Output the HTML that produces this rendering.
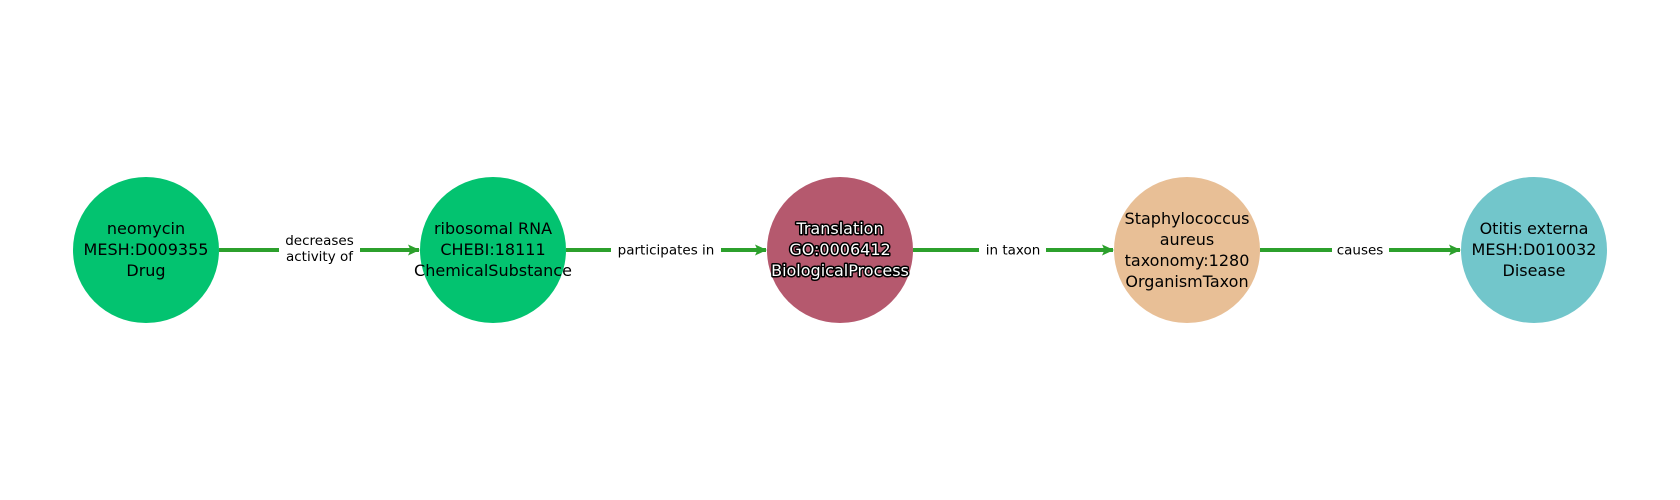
<!DOCTYPE html>
<html><head><meta charset="utf-8"><style>
html,body{margin:0;padding:0;background:#fff;}
svg{display:block;}
text{font-family:"DejaVu Sans","Liberation Sans",sans-serif;}
</style></head><body>
<svg width="1680" height="500" viewBox="0 0 1680 500" xmlns="http://www.w3.org/2000/svg">
<defs>
<marker id="a" markerWidth="12" markerHeight="12" refX="11" refY="6" orient="auto" markerUnits="userSpaceOnUse">
<path d="M0,0.5 L12,6 L0,11.5 L2.5,6 Z" fill="#2ca02c"/>
</marker>
</defs>
<g stroke="#2ca02c" stroke-width="4" fill="none">
<line x1="219" y1="250" x2="419" y2="250" marker-end="url(#a)"/>
<line x1="566" y1="250" x2="766" y2="250" marker-end="url(#a)"/>
<line x1="913" y1="250" x2="1113" y2="250" marker-end="url(#a)"/>
<line x1="1260" y1="250" x2="1460" y2="250" marker-end="url(#a)"/>
</g>
<g fill="#fff">
<rect x="279" y="232" width="81" height="36"/>
<rect x="611" y="240" width="110" height="20"/>
<rect x="979" y="240" width="67" height="20"/>
<rect x="1332" y="240" width="57" height="20"/>
</g>
<g font-size="13.5" fill="#000" text-anchor="middle">
<text x="319.5" y="245">decreases</text>
<text x="319.5" y="261">activity of</text>
<text x="666" y="254.5">participates in</text>
<text x="1013" y="254.5">in taxon</text>
<text x="1360" y="254.5">causes</text>
</g>
<circle cx="146" cy="250" r="73" fill="#03c370"/>
<circle cx="493" cy="250" r="73" fill="#03c370"/>
<circle cx="840" cy="250" r="73" fill="#b5596e"/>
<circle cx="1187" cy="250" r="73" fill="#e8bf96"/>
<circle cx="1534" cy="250" r="73" fill="#72c6cb"/>
<g font-size="16" text-anchor="middle" fill="#000">
<text x="146" y="234">neomycin</text>
<text x="146" y="255">MESH:D009355</text>
<text x="146" y="276">Drug</text>
<text x="493" y="234">ribosomal RNA</text>
<text x="493" y="255">CHEBI:18111</text>
<text x="493" y="276">ChemicalSubstance</text>
<text x="1187" y="224">Staphylococcus</text>
<text x="1187" y="245">aureus</text>
<text x="1187" y="266">taxonomy:1280</text>
<text x="1187" y="287">OrganismTaxon</text>
<text x="1534" y="234">Otitis externa</text>
<text x="1534" y="255">MESH:D010032</text>
<text x="1534" y="276">Disease</text>
</g>
<g font-size="16" text-anchor="middle" fill="#fff" stroke="#000" stroke-width="3" paint-order="stroke" stroke-linejoin="round">
<text x="840" y="234">Translation</text>
<text x="840" y="255">GO:0006412</text>
<text x="840" y="276">BiologicalProcess</text>
</g>
</svg>
</body></html>
